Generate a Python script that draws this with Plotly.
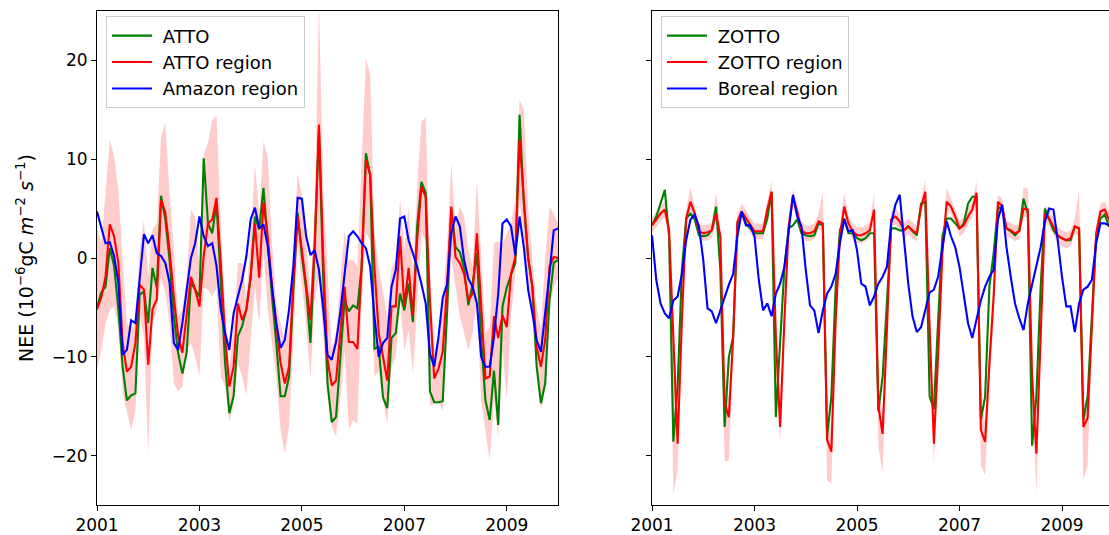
import numpy as np
import plotly.graph_objects as go

# month index -> decimal year (monthly samples, last one at the 2010 edge)
years = 2001 + np.arange(109) / 12.0

atto = [-5.0, -3.5, -2.9, 1.0, -0.8, -5.2, -11.0, -14.4, -13.9, -13.7, -3.7, -3.4,
        -6.6, -1.0, -3.0, 6.3, 3.9, -0.2, -5.9, -9.6, -11.7, -9.6, -2.5, -3.2,
        -3.9, 10.1, 3.5, 2.5, 5.6, -2.5, -10.6, -15.7, -14.0, -7.9, -6.9, -5.2,
        -1.9, 4.2, 2.9, 7.1, 1.5, -3.9, -8.6, -14.0, -14.0, -12.0, -3.2, 4.6,
        0.2, -3.2, -8.6, 0.8, 13.0, -2.0, -12.7, -16.6, -16.1, -10.3, -4.3, -5.4,
        -4.8, -5.1, -0.9, 10.6, 8.4, -9.2, -9.0, -14.1, -15.2, -8.1, -7.6, -3.6,
        -5.3, -2.6, -6.5, 3.2, 7.7, 6.6, -13.5, -14.6, -14.6, -14.5, -5.6, 5.0,
        1.1, 0.6, -1.0, -4.8, -2.6, 0.5, -8.3, -14.4, -16.4, -11.4, -16.9, -4.9,
        -3.0, -1.7, -0.5, 14.5, 5.5, 0.0, -3.0, -11.0, -14.7, -12.7, -4.3, -0.5,
        -0.2]
atto_region = [-5.2, -4.0, -1.9, 3.4, 2.2, -0.5, -8.6, -11.5, -11.0, -8.6, -2.7, -3.2,
               -10.8, -5.2, -4.2, 5.9, 4.6, 0.8, -3.9, -7.9, -9.6, -5.9, -1.9, -3.2,
               -4.9, 0.2, 3.5, 3.9, 6.1, -0.5, -7.9, -13.0, -11.0, -4.6, -6.3, -5.2,
               -1.9, 3.5, -2.0, 5.6, 2.2, -2.9, -6.9, -10.6, -12.7, -11.0, -2.5, 4.2,
               0.8, -2.5, -6.3, 1.5, 13.5, 0.0, -10.3, -12.9, -12.4, -7.6, -2.9, -8.5,
               -8.5, -9.2, -0.9, 9.9, 8.4, -0.9, -7.6, -10.0, -12.4, -4.9, -4.9, 2.2,
               -4.9, -1.0, -5.8, 1.8, 7.2, 6.2, -4.3, -12.2, -11.2, -9.5, -2.9, 5.2,
               0.1, -0.5, -1.6, -4.3, -3.6, 2.5, -4.9, -12.2, -12.0, -5.9, -8.1, -5.8,
               -7.0, -1.6, 0.1, 12.0, 5.9, 0.1, -2.9, -9.0, -11.0, -8.3, -0.9, 0.1,
               0.0]
amazon_region = [4.7, 3.0, 1.5, 1.6, 0.2, -2.5, -9.8, -9.3, -6.3, -6.6, -2.2, 2.4,
                 1.5, 2.3, 0.5, 0.2, -0.5, -2.5, -8.6, -9.3, -6.6, -3.4, 0.0, 1.5,
                 4.2, 2.2, 1.2, 1.5, -0.8, -5.2, -7.6, -9.3, -5.6, -3.9, -2.2, 0.2,
                 3.9, 5.1, 3.0, 3.4, 1.2, -2.9, -6.6, -9.1, -8.3, -5.2, -0.8, 6.1,
                 6.0, 2.2, 0.3, 0.8, -1.2, -5.2, -9.8, -10.3, -8.5, -5.5, -1.5, 2.2,
                 2.7, 2.2, 1.5, 1.0, -0.9, -5.9, -10.0, -8.6, -8.1, -2.9, -1.2, 4.0,
                 4.2, 1.8, 0.5, -0.9, -2.6, -4.6, -9.7, -11.0, -8.0, -4.0, -2.7, 2.5,
                 4.2, 3.2, -0.2, -2.1, -2.9, -4.6, -10.0, -11.0, -11.0, -8.0, -3.6, 3.5,
                 3.9, 3.2, 0.3, 4.2, 1.1, -3.2, -5.6, -8.3, -9.5, -5.8, -1.6, 2.8,
                 3.0]
atto_upper = [3.0, 1.5, 6.6, 12.0, 10.3, 6.9, -0.2, -6.6, -7.3, -6.3, 0.8, 3.9,
              -1.9, 2.9, 3.5, 12.3, 13.7, 6.6, 0.8, -5.9, -5.2, -1.9, 4.9, 4.2,
              -1.0, 10.5, 11.7, 14.0, 14.4, 3.0, -5.0, -11.3, -7.0, -0.5, -0.5, -3.9,
              2.2, 9.5, 4.5, 11.8, 10.3, 1.5, -4.6, -6.6, -8.6, -6.9, -0.2, 8.6,
              6.3, 1.5, -3.5, 4.9, 26.0, 7.0, -0.9, -9.3, -7.6, -2.6, 2.8, -0.2,
              -0.2, -0.9, 9.3, 20.2, 18.5, 2.5, -0.9, -3.6, -5.9, -0.9, -0.2, 5.9,
              0.8, 5.2, -1.6, 7.2, 13.8, 14.3, -1.9, -9.3, -8.6, -4.0, 1.0, 9.6,
              3.2, 5.2, 4.2, 0.8, -0.9, 7.9, 0.0, -7.6, -7.0, 1.5, 1.7, 1.5,
              2.5, 3.5, 5.9, 16.0, 15.0, 5.0, 0.0, -5.0, -7.0, 0.0, 5.2, 4.5,
              3.5]
atto_lower = [-11.3, -9.3, -6.6, -5.2, -4.9, -6.9, -13.7, -15.4, -17.4, -15.4, -6.0, -8.0,
              -19.9, -6.6, -5.2, -2.0, -3.5, -6.6, -12.7, -13.5, -13.0, -9.3, -8.6, -10.0,
              -12.0, -3.0, -3.2, -3.9, -3.0, -12.0, -13.0, -16.7, -14.7, -10.6, -12.0, -13.9,
              -8.6, -2.9, -6.6, 0.8, -5.2, -8.6, -12.0, -17.4, -19.8, -17.0, -8.6, 1.5,
              -2.5, -6.9, -12.3, -4.2, -2.0, -8.0, -13.7, -17.1, -18.1, -14.4, -9.3, -17.4,
              -16.4, -16.8, -4.3, 2.5, 1.8, -12.0, -11.4, -14.4, -16.8, -11.0, -10.0, -4.3,
              -9.3, -7.3, -11.7, -4.9, 2.5, 1.8, -15.0, -14.7, -14.7, -15.4, -7.6, 0.0,
              -2.9, -5.9, -7.6, -9.3, -7.6, -4.3, -14.4, -17.4, -20.5, -14.4, -18.1, -9.3,
              -14.4, -5.9, -1.6, 5.9, 2.0, -3.0, -6.0, -11.0, -15.4, -13.0, -5.0, -3.0,
              -2.0]

zotto = [3.3, 4.2, 5.5, 6.9, 2.2, -18.6, -13.0, -1.2, 4.0, 4.5, 3.9, 2.3,
         2.2, 2.3, 2.8, 5.2, -1.2, -17.1, -10.0, -8.0, 3.5, 4.7, 3.5, 3.0,
         2.5, 2.5, 2.5, 4.0, 6.7, -16.1, -9.0, -1.0, 3.0, 3.3, 3.9, 2.5,
         2.3, 2.2, 2.3, 3.5, 3.3, -18.1, -14.0, -3.0, 2.8, 4.0, 2.5, 2.5,
         2.0, 1.8, 2.0, 2.5, 2.5, -15.5, -12.0, -4.6, 3.0, 3.0, 2.8, 2.8,
         3.2, 2.7, 2.3, 5.5, 5.7, -14.0, -15.3, -6.3, 2.2, 4.0, 4.0, 3.5,
         3.0, 3.5, 5.5, 6.2, 6.2, -16.4, -14.0, -2.9, 0.5, 5.2, 4.9, 3.0,
         2.7, 2.3, 2.8, 6.0, 4.5, -19.0, -14.0, -3.0, 5.0, 3.9, 2.8, 2.2,
         2.0, 1.8, 1.8, 3.2, 3.0, -16.4, -14.0, -6.3, 2.2, 4.0, 4.4, 3.2,
         3.0]
zotto_region = [3.3, 3.9, 4.5, 4.9, 2.8, -8.0, -18.8, -6.3, 4.0, 5.7, 4.5, 2.7,
                2.5, 2.6, 2.8, 4.5, 2.2, -14.7, -16.1, -8.0, 3.7, 4.7, 4.0, 3.3,
                2.7, 2.7, 2.7, 4.9, 6.7, -8.0, -17.1, -6.3, 3.2, 6.2, 4.7, 2.8,
                2.5, 2.5, 2.7, 3.7, 3.5, -18.4, -19.6, -6.3, 2.2, 5.2, 3.5, 2.7,
                2.3, 2.3, 2.5, 2.8, 4.9, -15.0, -17.8, -7.3, 3.9, 4.2, 3.7, 2.8,
                3.2, 2.8, 2.5, 5.2, 6.7, -7.0, -18.8, -9.7, 0.5, 5.7, 5.2, 4.2,
                3.0, 3.3, 4.2, 4.9, 6.6, -17.4, -18.6, -10.7, -3.9, 5.7, 5.2, 3.0,
                2.8, 2.5, 2.7, 5.0, 4.9, -12.0, -19.8, -8.0, 4.5, 4.0, 3.2, 2.3,
                2.0, 1.8, 2.0, 3.2, 3.0, -17.1, -16.2, -6.0, 2.5, 4.7, 4.9, 3.9,
                3.5]
boreal_region = [2.3, -2.2, -4.6, -5.6, -6.1, -4.3, -3.9, -1.6, 1.8, 3.9, 4.4, 3.2,
                 -0.2, -5.1, -5.4, -6.6, -5.3, -3.9, -2.7, -1.6, 2.2, 4.7, 3.3, 3.3,
                 2.2, -2.2, -5.3, -4.6, -5.9, -3.6, -2.6, -0.9, 2.8, 6.4, 4.2, 3.2,
                 -1.2, -4.8, -5.3, -7.6, -5.3, -3.6, -2.9, -1.6, 1.5, 3.9, 2.7, 2.8,
                 0.8, -2.6, -2.9, -4.8, -3.9, -2.6, -1.9, -0.9, 3.5, 5.4, 6.4, 1.5,
                 -2.6, -5.9, -7.5, -7.0, -5.3, -3.5, -3.2, -1.9, 1.1, 3.7, 2.2, 1.1,
                 -0.9, -3.9, -6.6, -8.1, -6.3, -4.3, -2.9, -1.9, -1.2, 3.9, 5.4, 1.1,
                 -1.9, -4.6, -6.1, -7.3, -4.6, -2.6, -0.9, 1.1, 3.7, 5.0, 4.9, 1.8,
                 -1.9, -4.9, -4.9, -7.5, -4.6, -3.2, -2.9, -2.2, 1.5, 3.5, 3.5, 3.3,
                 3.3]
zotto_upper = [4.1, 4.7, 5.3, 5.7, 3.6, -7.0, -16.5, -4.5, 4.8, 7.1, 5.3, 3.5,
               3.3, 3.4, 3.6, 6.6, 3.0, -13.0, -14.0, -6.0, 4.5, 5.5, 4.8, 4.1,
               3.5, 3.5, 3.5, 5.7, 7.9, -6.0, -15.0, -4.5, 4.0, 6.9, 5.5, 3.6,
               3.3, 3.3, 3.5, 4.5, 6.7, -16.0, -17.5, -4.5, 3.0, 6.6, 4.3, 3.5,
               3.1, 3.1, 3.3, 3.6, 6.6, -13.0, -15.5, -5.5, 4.7, 5.0, 4.5, 3.6,
               4.0, 3.6, 3.3, 6.0, 7.9, -5.0, -16.5, -7.5, 1.5, 7.1, 6.0, 5.0,
               3.8, 4.1, 5.0, 5.7, 7.8, -15.0, -16.5, -8.5, -2.0, 6.4, 6.0, 3.8,
               3.6, 3.3, 3.5, 7.1, 7.0, -10.0, -17.5, -6.0, 5.3, 5.0, 4.0, 3.1,
               2.8, 2.6, 2.8, 4.0, 6.9, -15.0, -14.0, -4.0, 3.3, 5.5, 5.7, 4.7,
               4.3]
zotto_lower = [2.5, 3.1, 3.7, 4.1, 2.0, -23.9, -21.5, -8.5, 3.2, 4.9, 3.7, 1.9,
               1.7, 1.8, 2.0, 3.7, 1.0, -20.6, -20.5, -10.0, 2.9, 3.9, 3.2, 2.5,
               1.9, 1.9, 1.9, 4.1, 5.9, -10.0, -18.8, -8.5, 2.4, 5.4, 3.9, 2.0,
               1.7, 1.7, 1.9, 2.9, 2.7, -22.5, -22.8, -8.5, 1.4, 4.4, 2.7, 1.9,
               1.5, 1.5, 1.7, 2.0, 4.1, -19.0, -21.8, -9.5, 3.1, 3.4, 2.9, 2.0,
               2.4, 2.0, 1.7, 4.4, 5.9, -9.0, -20.8, -12.0, -0.5, 4.9, 4.4, 3.4,
               2.2, 2.5, 3.4, 4.1, 5.8, -21.0, -22.0, -13.0, -6.0, 4.9, 4.4, 2.2,
               2.0, 1.7, 1.9, 4.2, 4.1, -14.0, -23.9, -10.0, 3.7, 3.2, 2.4, 1.5,
               1.2, 1.0, 1.2, 2.4, 2.2, -22.5, -21.0, -8.0, 1.7, 3.9, 4.1, 3.1,
               2.7]

x_ticks = [2001, 2003, 2005, 2007, 2009]
x_ticklabels = ["2001", "2003", "2005", "2007", "2009"]
y_ticks = [-20, -10, 0, 10, 20]
y_ticklabels = ["\u221220", "\u221210", "0", "10", "20"]

FONT = "DejaVu Sans"
GREEN, RED, BLUE = "#008000", "#ff0000", "#0000ff"
BAND = "rgba(255,0,0,0.2)"
LW = 2.1
NB = "\u00a0"

fig = go.Figure()


def add_panel(xa, ya, legend, lower, upper, site, region, big, names):
    fig.add_trace(go.Scatter(x=years, y=lower, mode="lines", line=dict(width=0),
                             xaxis=xa, yaxis=ya, showlegend=False, hoverinfo="skip"))
    fig.add_trace(go.Scatter(x=years, y=upper, mode="lines", line=dict(width=0),
                             fill="tonexty", fillcolor=BAND,
                             xaxis=xa, yaxis=ya, showlegend=False, hoverinfo="skip"))
    for vals, col, nm in zip([site, region, big], [GREEN, RED, BLUE], names):
        fig.add_trace(go.Scatter(x=years, y=vals, mode="lines", name=NB + nm,
                                 line=dict(color=col, width=LW),
                                 xaxis=xa, yaxis=ya, legend=legend))


add_panel("x", "y", "legend", atto_lower, atto_upper, atto, atto_region, amazon_region,
          ["ATTO", "ATTO region", "Amazon region"])
add_panel("x2", "y2", "legend2", zotto_lower, zotto_upper, zotto, zotto_region, boreal_region,
          ["ZOTTO", "ZOTTO region", "Boreal region"])

W, H = 1109, 535
ML, MR, MT, MB = 97, 0, 11, 30
PW = W - ML - MR
left_dom = [0, 461 / PW]
right_dom = [(652 - ML) / PW, 1.0]

axis_common = dict(showgrid=False, zeroline=False, showline=True, linecolor="black",
                   linewidth=1.1, ticks="outside", ticklen=5, tickwidth=1.1,
                   tickcolor="black", tickfont=dict(family=FONT, size=17, color="black"))

legend_common = dict(yanchor="top", xanchor="left", y=0.989,
                     bgcolor="rgba(255,255,255,0.8)", bordercolor="#cccccc", borderwidth=1,
                     font=dict(family=FONT, size=18, color="black"), itemwidth=40,
                     tracegroupgap=0, traceorder="normal")

fig.update_layout(
    width=W, height=H,
    margin=dict(l=ML, r=MR, t=MT, b=MB, pad=0),
    paper_bgcolor="white", plot_bgcolor="white",
    font=dict(family=FONT, size=17, color="black"),
    xaxis=dict(domain=left_dom, range=[2001, 2010], tickvals=x_ticks, ticktext=x_ticklabels,
               mirror=True, anchor="y", **axis_common),
    yaxis=dict(domain=[0, 1], range=[-25, 25], tickvals=y_ticks, ticktext=y_ticklabels,
               mirror=True, anchor="x", **axis_common),
    xaxis2=dict(domain=right_dom, range=[2001, 2001 + 457 / 51.25], tickvals=x_ticks,
                ticktext=x_ticklabels, mirror=True, anchor="y2", **axis_common),
    yaxis2=dict(domain=[0, 1], range=[-25, 25], tickvals=y_ticks, showticklabels=False,
                mirror=False, anchor="x2", **axis_common),
    legend=dict(x=(106 - ML) / PW, **legend_common),
    legend2=dict(x=(661 - ML) / PW, **legend_common),
    annotations=[dict(text="NEE (10<sup>\u22126</sup>gC <i>m</i><sup>\u22122</sup> <i>s</i><sup>\u22121</sup>)",
                      xref="paper", yref="paper", x=(25 - ML) / PW, y=0.5,
                      xanchor="center", yanchor="middle", textangle=-90, showarrow=False,
                      font=dict(family=FONT, size=19, color="black"))],
    showlegend=True,
)

fig.write_html("out.html", config={"displayModeBar": False},
               post_script="document.body.style.margin='0';document.body.style.overflow='hidden';")
